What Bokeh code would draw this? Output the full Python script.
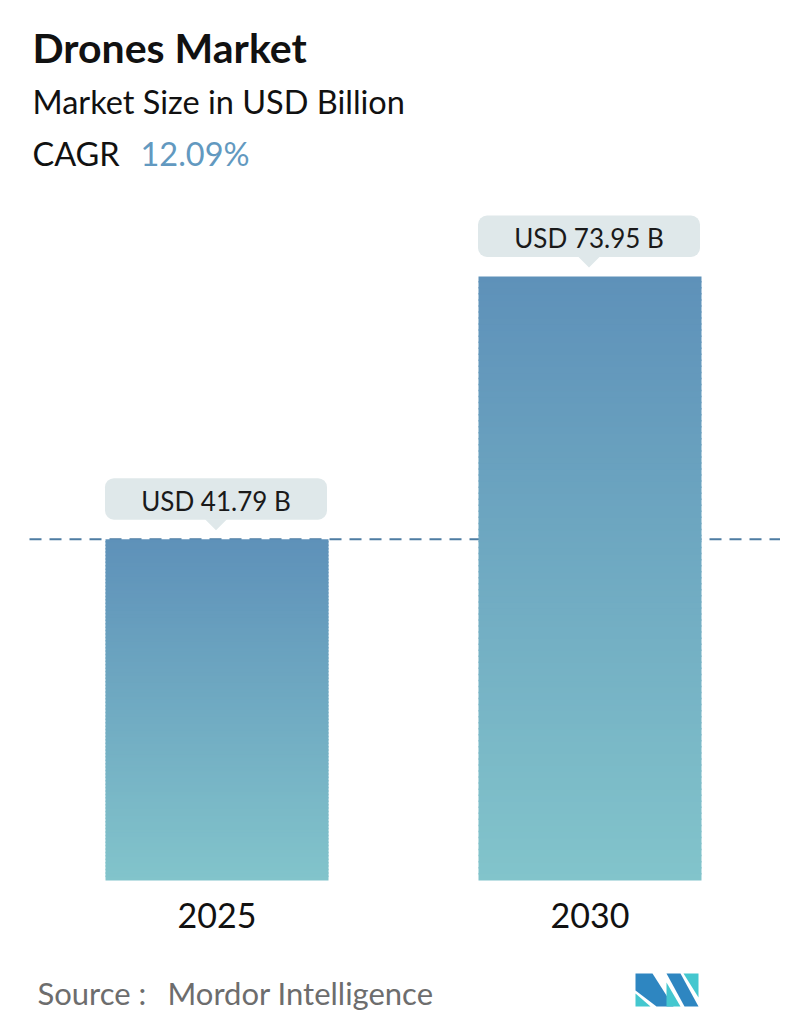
import numpy as np
from bokeh.plotting import figure
from bokeh.models import Range1d
from bokeh.core.properties import value
from bokeh.embed import file_html
from bokeh.resources import INLINE

# ---- data ----
years = ["2025", "2030"]
market_size = [41.79, 73.95]
value_labels = ["USD 41.79 B", "USD 73.95 B"]
title_text = "Drones Market"
subtitle_text = "Market Size in USD Billion"
cagr_label = "CAGR"
cagr_value = "12.09%"
source_label = "Source :"
source_name = "Mordor Intelligence"

# ---- layout ----
W, H = 780, 1018
X0 = -216.5 / 373.0
X1 = X0 + W / 373.0
Y0 = -138 * (73.95 / 604.0)
Y1 = Y0 + H * (73.95 / 604.0)
BAR_W = 223 / 373.0
upp = (Y1 - Y0) / H          # data units per pixel (y)
ppx = W / (X1 - X0)          # pixels per data unit (x)

FONT = value("Lato")
TOP_C = np.array([0x5e, 0x91, 0xb9])
BOT_C = np.array([0x82, 0xc4, 0xcb])


def mid(baseline, size):
    """visual middle of capitals for a given baseline and font size"""
    return baseline - 0.36 * size


p = figure(width=W, height=H, x_range=Range1d(X0, X1), y_range=Range1d(Y0, Y1),
           output_backend="svg", toolbar_location=None, min_border=0,
           x_axis_type=None, y_axis_type=None,
           outline_line_color=None, background_fill_color="white",
           border_fill_color="white")
p.grid.visible = False
p.extra_x_ranges = {"px": Range1d(0, W)}
p.extra_y_ranges = {"px": Range1d(H, 0)}

xs_idx = list(range(len(years)))

# dashed reference line at first value
p.segment(x0=[29], y0=[market_size[0]], x1=[781], y1=[market_size[0]],
          x_range_name="px", line_color="#4d7ca2", line_width=2, line_dash="12 8")

# gradient bars
N = 100
ov = 1.5 * upp
for i, v in enumerate(market_size):
    edges = np.linspace(0, v, N + 1)
    t = (np.arange(N) + 0.5) / N
    cols = []
    for tt in t:
        c = BOT_C + (TOP_C - BOT_C) * tt
        cols.append("#%02x%02x%02x" % tuple(int(round(k)) for k in c))
    tops = np.minimum(edges[1:] + ov, v)
    p.quad(left=i - BAR_W / 2, right=i + BAR_W / 2, bottom=edges[:-1],
           top=tops, fill_color=cols, line_color=None)

# callouts
for i, v in enumerate(market_size):
    p.quad(left=[i - 112 / ppx], right=[i + 110 / ppx],
           bottom=[v + 19.5 * upp], top=[v + 61 * upp],
           fill_color="#dfe8ea", line_color=None, border_radius=9)
    p.patch(x=[i - 12 / ppx, i + 10 / ppx, i - 1 / ppx],
            y=[v + 20 * upp, v + 20 * upp, v + 9 * upp],
            fill_color="#dfe8ea", line_color=None)
p.text(x=[i - 1 / ppx for i in xs_idx],
       y=[v + (29 + 0.36 * 26) * upp for v in market_size], text=value_labels,
       text_align="center", text_baseline="middle", text_font=FONT,
       text_font_size="26px", text_color="#1a1a1a")

# year labels
p.text(x=xs_idx, y=[mid(927, 34)] * 2, y_range_name="px", text=years,
       text_align="center", text_baseline="middle", text_font=FONT,
       text_font_size="34px", text_color="#111111")

# titles
p.text(x=[32], y=[mid(62, 41)], x_range_name="px", y_range_name="px",
       text=[title_text], text_baseline="middle", text_font=FONT,
       text_font_style="bold", text_font_size="41px", text_color="#111111")
p.text(x=[32], y=[mid(113, 32.5)], x_range_name="px", y_range_name="px",
       text=[subtitle_text], text_baseline="middle", text_font=FONT,
       text_font_size="32.5px", text_color="#111111")
p.text(x=[32], y=[mid(165, 32.5)], x_range_name="px", y_range_name="px",
       text=[cagr_label], text_baseline="middle", text_font=FONT,
       text_font_size="32.5px", text_color="#111111")
p.text(x=[140], y=[mid(165, 32.5)], x_range_name="px", y_range_name="px",
       text=[cagr_value], text_baseline="middle", text_font=FONT,
       text_font_size="32.5px", text_color="#6299c0")

# source
p.text(x=[37], y=[mid(1004, 31)], x_range_name="px", y_range_name="px",
       text=[source_label], text_baseline="middle", text_font=FONT,
       text_font_size="31px", text_color="#6d6d6d")
p.text(x=[167], y=[mid(1004, 31)], x_range_name="px", y_range_name="px",
       text=[source_name], text_baseline="middle", text_font=FONT,
       text_font_size="31px", text_color="#6d6d6d")

# logo
DARK, CYAN = "#2e86c1", "#44c7cf"
logo_xs = [
    [635, 635, 650],
    [635, 652, 673, 656, 635],
    [666, 680, 698, 684],
    [683, 698, 698],
    [666, 666, 680],
]
logo_ys = [
    [993, 1006, 1006],
    [973, 973, 1006, 1006, 990],
    [973, 973, 1006, 1006],
    [973, 973, 997],
    [982, 1006, 1006],
]
logo_cols = [CYAN, DARK, DARK, CYAN, CYAN]
p.patches(xs=logo_xs, ys=logo_ys, x_range_name="px", y_range_name="px",
          fill_color=logo_cols, line_color=None)

open("out.html", "w").write(file_html(p, INLINE))
